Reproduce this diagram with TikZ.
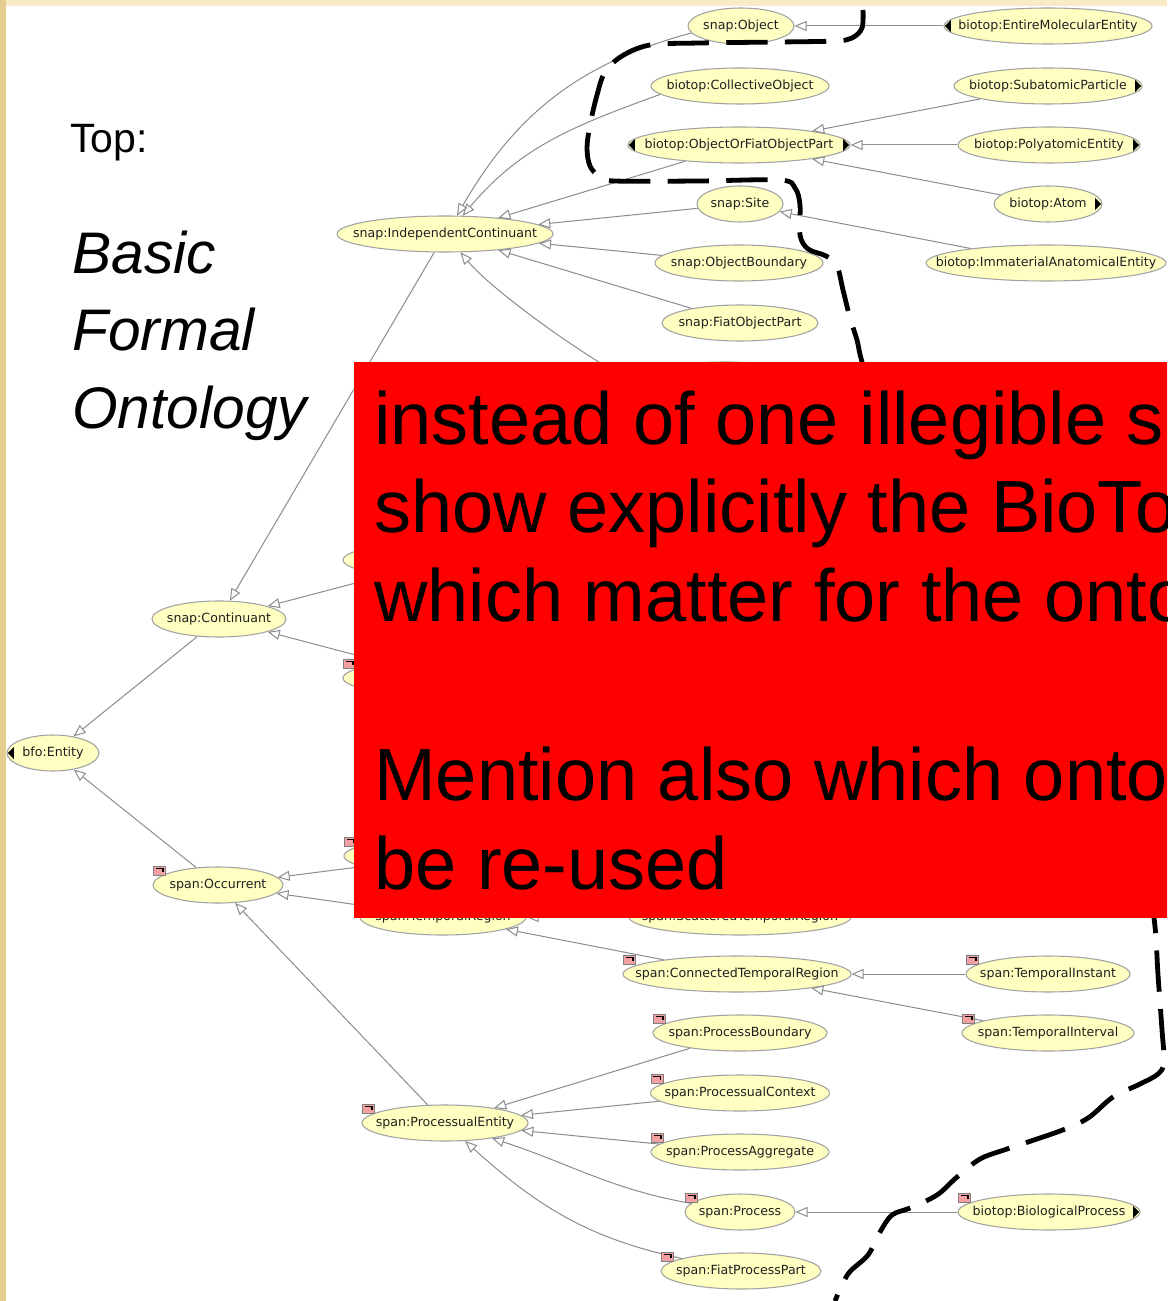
\documentclass[tikz,border=0pt]{standalone}
\usepackage{fontspec}
\setmainfont{Liberation Sans}
\newfontfamily\nodefont{DejaVu Sans}
\usetikzlibrary{arrows.meta,shapes.geometric,calc}
\definecolor{parch}{HTML}{F8EBC6}
\definecolor{parchL}{HTML}{E6CD8F}
\definecolor{nfill}{HTML}{FFFFC2}
\definecolor{nline}{HTML}{A2A2A2}
\definecolor{ecol}{HTML}{8C8C8C}
\definecolor{mkfill}{HTML}{F3A0A3}
\definecolor{boxred}{HTML}{FF0000}
\newcommand\onode[5]{\node[ell=#4] (#1) at (#2,#3) {\makebox[0pt]{#5}};}
\newcommand\redmark[1]{\draw[mk] ($(#1.west)+(1,-19)$) rectangle ++(12,9);
  \draw[line width=0.8pt] ($(#1.west)+(3.5,-16.5)$) -- ++(7,0) -- ++(0,3);}
\newcommand\lmark[1]{\fill ($(#1.west)+(1.5,0)$) -- ++(6,-6) -- ++(0,12) -- cycle;}
\newcommand\rmark[1]{\fill ($(#1.east)+(-1.5,0)$) -- ++(-6,-6) -- ++(0,12) -- cycle;}
\begin{document}
\begin{tikzpicture}[x=0.75pt,y=-0.75pt,
 ell/.style={ellipse,draw=nline,fill=nfill,line width=0.8pt,inner sep=0pt,minimum height=27pt,minimum width=#1*0.75pt,text=black!88,font=\nodefont\fontsize{9.45}{11}\selectfont},
 edge/.style={draw=ecol,line width=0.75pt,-{Triangle[open,length=9pt,width=7.5pt]}},
 mk/.style={fill=mkfill,draw=gray,line width=0.5pt},
 dashline/.style={line width=3.6pt,dash pattern=on 31pt off 13pt,black},
 redtext/.style={anchor=base west,inner sep=0pt,font=\fontsize{55.5}{66}\selectfont},
 lefttext/.style={anchor=base west,inner sep=0pt}]
\useasboundingbox (0,0) rectangle (1167,1301);
\clip (0,0) rectangle (1167,1301);
% background
\fill[parch] (0,0) rectangle (1167,1301);
\fill[parchL] (0,0) rectangle (6,1301);
\fill[white] (6,6) rectangle (1167,1301);
% nodes
\onode{obj}{741}{26}{106}{snap:Object}
\onode{eme}{1048}{26}{208}{biotop:EntireMolecularEntity}
\onode{coll}{740}{86}{178}{biotop:CollectiveObject}
\onode{sap}{1048}{86}{188}{biotop:SubatomicParticle}
\onode{oofop}{739}{145}{222}{biotop:ObjectOrFiatObjectPart}
\onode{poly}{1049}{145}{182}{biotop:PolyatomicEntity}
\onode{site}{740}{204}{86}{snap:Site}
\onode{atom}{1048}{204}{108}{biotop:Atom}
\onode{ic}{445}{234}{216}{snap:IndependentContinuant}
\onode{ob}{739}{263}{168}{snap:ObjectBoundary}
\onode{iae}{1046}{263}{240}{biotop:ImmaterialAnatomicalEntity}
\onode{fop}{740}{323}{156}{snap:FiatObjectPart}
\onode{hA}{725}{380}{190}{}
\onode{hB}{443}{560}{200}{}
\onode{cont}{219}{619}{134}{snap:Continuant}
\onode{hC}{443}{678}{200}{}
\onode{ent}{53}{753}{92}{bfo:Entity}
\onode{hD}{444}{856}{200}{}
\onode{occ}{218}{885}{130}{span:Occurrent}
\onode{hE}{443}{917}{166}{span:TemporalRegion}
\onode{hF}{740}{917}{222}{span:ScatteredTemporalRegion}
\onode{ctr}{737}{974}{228}{span:ConnectedTemporalRegion}
\onode{ti}{1048}{974}{164}{span:TemporalInstant}
\onode{tint}{1048}{1033}{172}{span:TemporalInterval}
\onode{pb}{740}{1033}{174}{span:ProcessBoundary}
\onode{pc}{740}{1093}{179}{span:ProcessualContext}
\onode{pe}{445}{1123}{166}{span:ProcessualEntity}
\onode{pa}{740}{1152}{178}{span:ProcessAggregate}
\onode{proc}{740}{1212}{110}{span:Process}
\onode{bp}{1049}{1212}{182}{biotop:BiologicalProcess}
\onode{fpp}{741}{1271}{160}{span:FiatProcessPart}
% edges
\draw[edge] (eme) -- (obj);
\draw[edge] (sap) -- (oofop);
\draw[edge] (poly) -- (oofop);
\draw[edge] (atom) -- (oofop);
\draw[edge] (iae) -- (site);
\draw[edge] (obj.188) to[out=195,in=60] (ic.57);
\draw[edge] (coll.186) to[out=200,in=50] (ic.46);
\draw[edge] (oofop) -- (ic);
\draw[edge] (site) -- (ic);
\draw[edge] (ob) -- (ic);
\draw[edge] (fop) -- (ic);
\draw[edge] (hA.west) .. controls +(-152:55) and +(50:50) .. (ic.-50);
\draw[edge] (ic) -- (cont);
\draw[edge] (hB) -- (cont);
\draw[edge] (hC) -- (cont);
\draw[edge] (cont) -- (ent);
\draw[edge] (occ) -- (ent);
\draw[edge] (hD) -- (occ);
\draw[edge] (hE) -- (occ);
\draw[edge] (pe) -- (occ);
\draw[edge] (hF) -- (hE);
\draw[edge] (ctr) -- (hE);
\draw[edge] (ti) -- (ctr);
\draw[edge] (tint) -- (ctr);
\draw[edge] (pb) -- (pe);
\draw[edge] (pc) -- (pe);
\draw[edge] (pa) -- (pe);
\draw[edge] (proc) to[out=170,in=-18] (pe);
\draw[edge] (fpp) to[out=168,in=-42] (pe);
\draw[edge] (bp) -- (proc);
% markers
\foreach \n in {occ,hC,hD,ctr,ti,tint,pb,pc,pe,pa,proc,bp,fpp}{\redmark{\n}}
\lmark{ent}\lmark{eme}\lmark{oofop}
\rmark{oofop}\rmark{sap}\rmark{poly}\rmark{atom}\rmark{bp}
% dashed outline
\draw[dashline] plot[smooth,tension=0.55] coordinates {(863,10) (862,28) (852,38) (835,41) (780,42) (700,43) (650,45) (622,56) (605,72) (597,95) (590,125) (587,148) (590,166) (600,177) (615,181) (700,181) (780,180) (795,188) (800,205) (800,235) (808,249) (826,256) (837,266) (843,290) (850,318) (857,340) (862,362) (880,420) (950,560) (1060,720) (1140,840) (1154,918) (1158,975) (1162,1030) (1164,1062) (1158,1074) (1140,1084) (1113,1097) (1088,1118) (1060,1131) (1007,1149) (980,1159) (957,1177) (937,1195) (910,1208) (892,1215) (880,1232) (868,1255) (848,1274) (835,1301)};
% red box
\fill[boxred] (354,362) rectangle (1180,918);
\node[redtext] (r1) at (374,444) {instead of one illegible s};
\node[redtext] (r2) at (374,532) {show explicitly the BioTo};
\node[redtext] (r3) at (374,621) {which matter for the onto};
\node[redtext] (r4) at (374,800) {Mention also which onto};
\node[redtext] (r5) at (374,889) {be re-used};
% left titles
\node[lefttext,font=\fontsize{30.75}{36}\selectfont] (top) at (70,153) {Top:};
\node[lefttext,font=\itshape\fontsize{44}{50}\selectfont] (bfo1) at (72,274) {Basic};
\node[lefttext,font=\itshape\fontsize{44}{50}\selectfont] (bfo2) at (72,351) {Formal};
\node[lefttext,font=\itshape\fontsize{44}{50}\selectfont] (bfo3) at (72,428) {Ontology};
\end{tikzpicture}
\end{document}
